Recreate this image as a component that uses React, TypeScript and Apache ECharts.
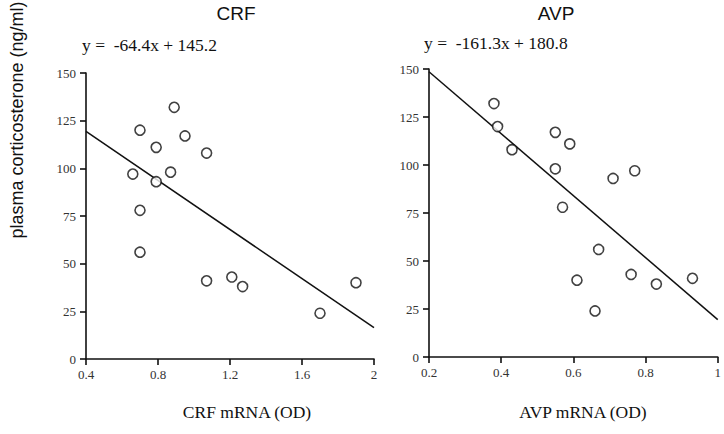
import React, { useEffect, useRef } from "react";
import * as echarts from "echarts";

const crfX = [0.89, 0.70, 0.95, 0.79, 1.07, 0.66, 0.87, 0.79, 0.70, 0.70, 1.07, 1.21, 1.27, 1.70, 1.90];
const crfY = [132, 120, 117, 111, 108, 97, 98, 93, 78, 56, 41, 43, 38, 24, 40];
const avpX = [0.38, 0.39, 0.43, 0.55, 0.59, 0.55, 0.71, 0.77, 0.57, 0.67, 0.61, 0.76, 0.83, 0.93, 0.66];
const avpY = [132, 120, 108, 117, 111, 98, 93, 97, 78, 56, 40, 43, 38, 41, 24];

const crfSlope = -64.4;
const crfIntercept = 145.2;
const avpSlope = -161.3;
const avpIntercept = 180.8;

const crfRange = [0.4, 2];
const avpRange = [0.2, 1];

const titles = ["CRF", "AVP"];
const equations = ["y =  -64.4x + 145.2", "y =  -161.3x + 180.8"];
const xNames = ["CRF mRNA (OD)", "AVP mRNA (OD)"];
const yName = "plasma corticosterone (ng/ml)";

export default function App() {
  const ref = useRef<HTMLDivElement>(null);
  useEffect(() => {
    if (!ref.current) return;
    const chart = echarts.init(ref.current, null, { renderer: "svg" });
    const serif = "Liberation Serif";
    const sans = "Liberation Sans";
    const axisLine = { show: true, lineStyle: { color: "#111", width: 1.6 } };
    const axisTick = { show: true, length: 6, lineStyle: { color: "#111", width: 1.6 } };
    const axisLabel = { color: "#333", fontFamily: serif, fontSize: 13 };
    const mkX = (idx: number, range: number[], interval: number) => ({
      type: "value",
      gridIndex: idx,
      min: range[0],
      max: range[1],
      interval,
      axisLine,
      axisTick,
      axisLabel: { ...axisLabel, margin: 9 },
      splitLine: { show: false },
    });
    const mkY = (idx: number) => ({
      type: "value",
      gridIndex: idx,
      min: 0,
      max: 150,
      interval: 25,
      axisLine,
      axisTick,
      axisLabel: { ...axisLabel, margin: 10 },
      splitLine: { show: false },
    });
    const scatterStyle = {
      symbol: "circle",
      symbolSize: 10,
      itemStyle: { color: "#fff", borderColor: "#111", borderWidth: 1.6 },
    };
    chart.setOption({
      animation: false,
      grid: [
        { left: 86, right: 350, top: 73, bottom: 75 },
        { left: 429, right: 6, top: 69, bottom: 77 },
      ],
      xAxis: [mkX(0, crfRange, 0.4), mkX(1, avpRange, 0.2)],
      yAxis: [mkY(0), mkY(1)],
      series: [
        {
          type: "scatter",
          xAxisIndex: 0,
          yAxisIndex: 0,
          data: crfX.map((x, i) => [x, crfY[i]]),
          z: 3,
          ...scatterStyle,
        },
        {
          type: "line",
          xAxisIndex: 0,
          yAxisIndex: 0,
          data: crfRange.map((x) => [x, crfSlope * x + crfIntercept]),
          symbol: "none",
          lineStyle: { color: "#111", width: 1.5 },
          z: 2,
        },
        {
          type: "scatter",
          xAxisIndex: 1,
          yAxisIndex: 1,
          data: avpX.map((x, i) => [x, avpY[i]]),
          z: 3,
          ...scatterStyle,
        },
        {
          type: "line",
          xAxisIndex: 1,
          yAxisIndex: 1,
          data: avpRange.map((x) => [x, avpSlope * x + avpIntercept]),
          symbol: "none",
          lineStyle: { color: "#111", width: 1.5 },
          z: 2,
        },
      ],
      graphic: [
        { type: "text", x: 236, y: 13, style: { text: titles[0], font: `19px ${sans}`, fill: "#111", align: "center", verticalAlign: "middle" } },
        { type: "text", x: 556, y: 13, style: { text: titles[1], font: `19px ${sans}`, fill: "#111", align: "center", verticalAlign: "middle" } },
        { type: "text", x: 82, y: 45, style: { text: equations[0], font: `17.5px ${serif}`, fill: "#111", align: "left", verticalAlign: "middle" } },
        { type: "text", x: 424, y: 43, style: { text: equations[1], font: `17.5px ${serif}`, fill: "#111", align: "left", verticalAlign: "middle" } },
        { type: "text", x: 247, y: 412, style: { text: xNames[0], font: `17.5px ${serif}`, fill: "#111", align: "center", verticalAlign: "middle" } },
        { type: "text", x: 583, y: 412, style: { text: xNames[1], font: `17.5px ${serif}`, fill: "#111", align: "center", verticalAlign: "middle" } },
        {
          type: "text",
          x: 17,
          y: 120,
          rotation: Math.PI / 2,
          style: { text: yName, font: `18px ${sans}`, fill: "#111", align: "center", verticalAlign: "middle" },
        },
      ],
    });
    return () => chart.dispose();
  }, []);
  return (
    <div
      ref={ref}
      style={{ position: "fixed", left: 0, top: 0, width: 724, height: 434, background: "#fff" }}
    />
  );
}
